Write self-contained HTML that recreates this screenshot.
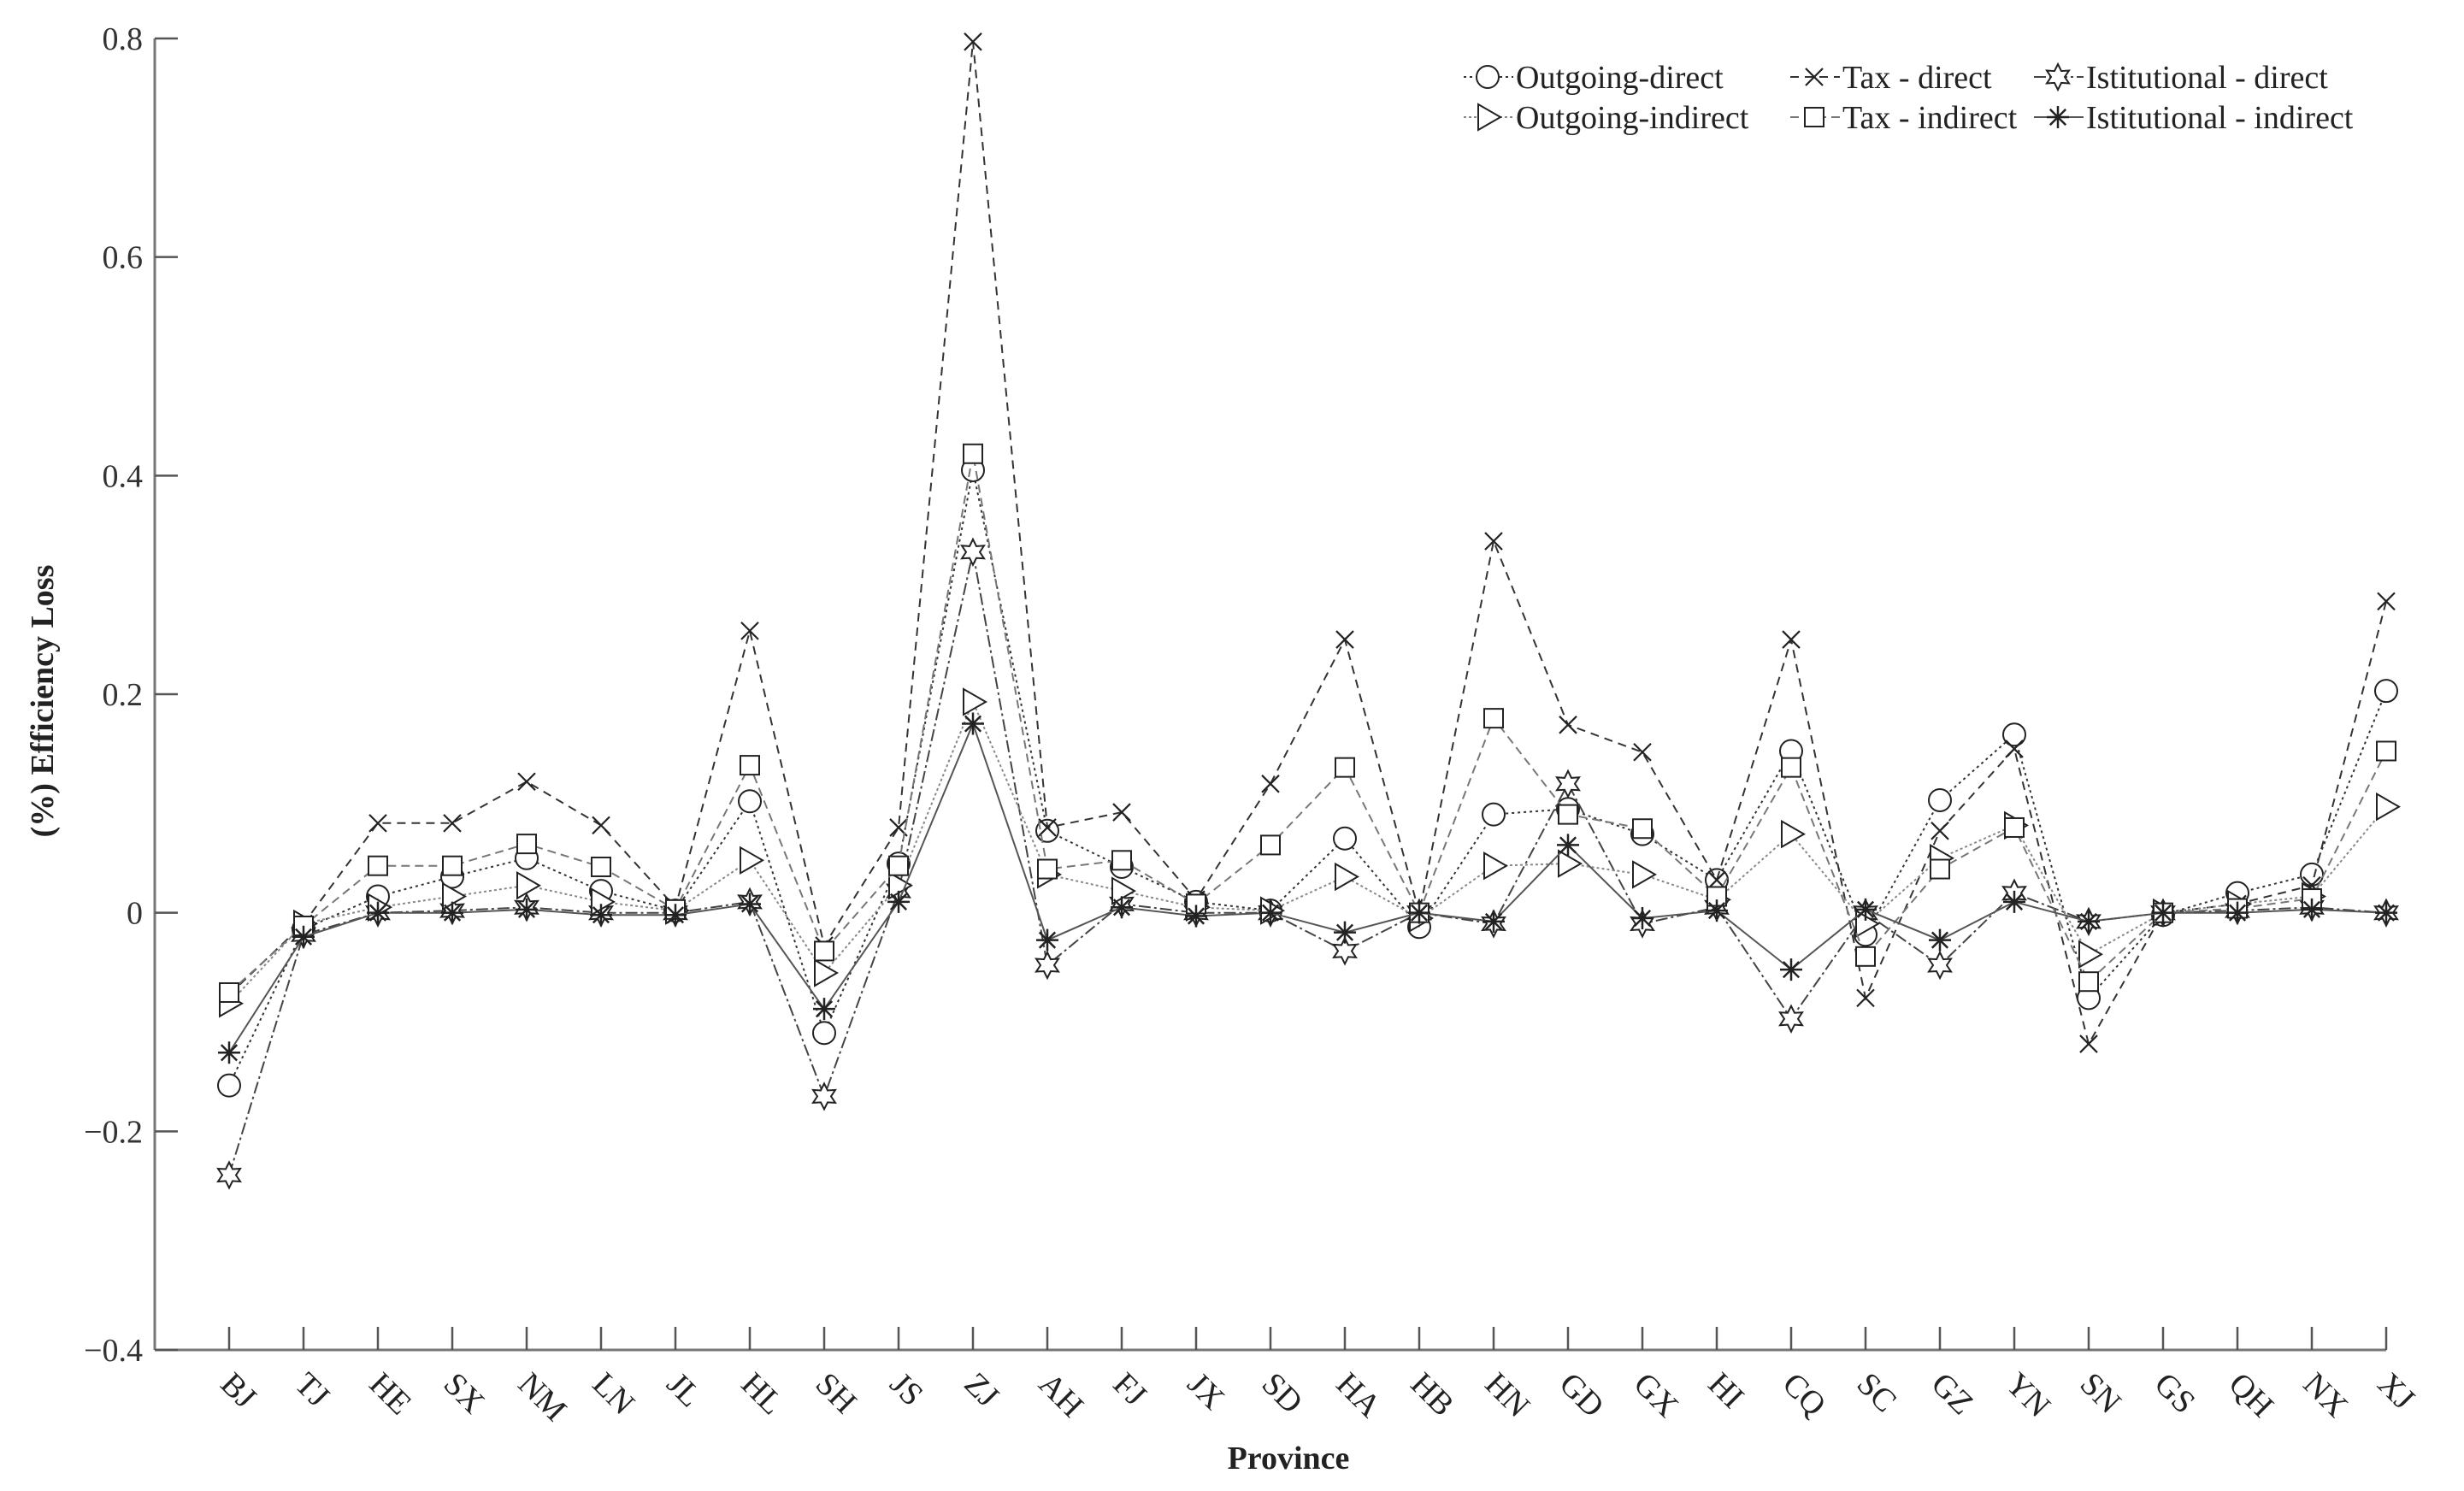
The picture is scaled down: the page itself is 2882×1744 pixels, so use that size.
<!DOCTYPE html>
<html><head><meta charset="utf-8"><style>
html,body{margin:0;padding:0;background:#fff;}
svg{display:block;font-family:"Liberation Serif",serif;}
</style></head><body>
<svg id="chart" width="2882" height="1744" viewBox="0 0 2882 1744">
<g id="axes"></g>
<g id="series"></g>
<g id="legend"></g>
<text x="62" y="820" transform="rotate(-90 62 820)" text-anchor="middle" font-size="38" font-weight="bold" fill="#222">(%) Efficiency Loss</text>
<text x="1507" y="1718" text-anchor="middle" font-size="38" font-weight="bold" fill="#222">Province</text>
</svg>
<script>
const provinces = ["BJ","TJ","HE","SX","NM","LN","JL","HL","SH","JS","ZJ","AH","FJ","JX","SD","HA","HB","HN","GD","GX","HI","CQ","SC","GZ","YN","SN","GS","QH","NX","XJ"];
const yTicks = [-0.4,-0.2,0,0.2,0.4,0.6,0.8];
const yTickLabels = ["\u22120.4","\u22120.2","0","0.2","0.4","0.6","0.8"];
const outgoingDirect = [-0.158,-0.015,0.015,0.033,0.05,0.02,0.002,0.102,-0.11,0.045,0.405,0.075,0.042,0.01,0.002,0.068,-0.013,0.09,0.095,0.072,0.03,0.148,-0.02,0.103,0.163,-0.078,-0.002,0.018,0.035,0.203];
const taxDirect = [-0.075,-0.01,0.082,0.082,0.12,0.08,0.005,0.258,-0.03,0.078,0.797,0.078,0.092,0.012,0.118,0.25,0.0,0.34,0.172,0.147,0.03,0.25,-0.078,0.075,0.15,-0.12,0,0.008,0.025,0.285];
const instDirect = [-0.24,-0.02,0.0,0.002,0.005,0.0,0.0,0.01,-0.168,0.02,0.33,-0.048,0.008,0.0,0.0,-0.035,0.0,-0.01,0.118,-0.01,0.005,-0.097,0.0,-0.048,0.018,-0.008,0,0.002,0.005,0];
const outgoingIndirect = [-0.083,-0.01,0.005,0.015,0.025,0.01,0.002,0.048,-0.055,0.025,0.193,0.035,0.02,0.005,0.002,0.033,-0.005,0.043,0.045,0.035,0.012,0.072,-0.01,0.05,0.08,-0.038,0,0.008,0.015,0.097];
const taxIndirect = [-0.073,-0.012,0.043,0.043,0.063,0.042,0.003,0.135,-0.035,0.043,0.42,0.04,0.048,0.008,0.062,0.133,0.0,0.178,0.09,0.077,0.015,0.133,-0.04,0.04,0.078,-0.063,0,0.004,0.013,0.148];
const instIndirect = [-0.128,-0.022,0.0,0.0,0.003,-0.002,-0.002,0.008,-0.088,0.01,0.173,-0.025,0.005,-0.003,0.0,-0.018,0.0,-0.008,0.062,-0.005,0.002,-0.052,0.003,-0.025,0.01,-0.008,0,0.0,0.003,0];

const NS="http://www.w3.org/2000/svg";
const X0=268, X1=2791, AX=181, Y0=1579, Y1=45, VMIN=-0.4, VMAX=0.8;
function xScale(i){return X0+(X1-X0)*i/(provinces.length-1);}
function yScale(v){return Y0-(v-VMIN)/(VMAX-VMIN)*(Y0-Y1);}
function mk(tag,attrs,parent){const e=document.createElementNS(NS,tag);for(const k in attrs)e.setAttribute(k,attrs[k]);parent.appendChild(e);return e;}

const axes=document.getElementById('axes');
let e;
e=mk('line',{x1:AX,y1:Y0,x2:X1,y2:Y0,stroke:'#777','stroke-width':3},axes);


e=mk('line',{x1:AX,y1:Y0,x2:AX,y2:Y1,stroke:'#777','stroke-width':3},axes);


yTicks.forEach((t,i)=>{
  const y=yScale(t);
  const l=mk('line',{x1:AX,y1:y,x2:AX+27,y2:y,stroke:'#555','stroke-width':2.5},axes);
  
  
  const tx=mk('text',{x:AX-14,y:y+13,'text-anchor':'end','font-size':38,fill:'#333'},axes);
  tx.textContent=yTickLabels[i];
  
  
});
provinces.forEach((p,i)=>{
  const x=xScale(i);
  const l=mk('line',{x1:x,y1:Y0,x2:x,y2:Y0-27,stroke:'#555','stroke-width':2.5},axes);
  
  
  const tx=mk('text',{x:x-12,y:Y0+42,transform:`rotate(45 ${x-12} ${Y0+42})`,'font-size':38,fill:'#222'},axes);
  tx.textContent=p;
  
  
});

function drawMarker(type,x,y,g){
  const s=13, st={fill:'#fff',stroke:'#222','stroke-width':2};
  let m;
  if(type==='circle') m=mk('circle',Object.assign({cx:x,cy:y,r:s},st),g);
  else if(type==='x') m=mk('path',{d:`M${x-10} ${y-10}L${x+10} ${y+10}M${x-10} ${y+10}L${x+10} ${y-10}`,stroke:'#222','stroke-width':2.2,fill:'none'},g);
  else if(type==='square') m=mk('rect',Object.assign({x:x-11,y:y-11,width:22,height:22},st),g);
  else if(type==='tri') m=mk('path',Object.assign({d:`M${x-11} ${y-15}L${x+15} ${y}L${x-11} ${y+15}Z`},st),g);
  else if(type==='star'){let d='';for(let k=0;k<12;k++){const r=k%2?8:15;const a=Math.PI/6*k-Math.PI/2;d+=(k?'L':'M')+(x+r*Math.cos(a)).toFixed(1)+' '+(y+r*Math.sin(a)).toFixed(1);}m=mk('path',Object.assign({d:d+'Z'},st),g);}
  else if(type==='ast'){let d='';for(let k=0;k<4;k++){const a=Math.PI/4*k;d+=`M${x-13*Math.cos(a)} ${y-13*Math.sin(a)}L${x+13*Math.cos(a)} ${y+13*Math.sin(a)}`;}m=mk('path',{d:d,stroke:'#222','stroke-width':2.5,fill:'none'},g);}
  return m;
}
const seriesDefs=[
  {name:'outgoing-direct',label:'Outgoing-direct',data:outgoingDirect,marker:'circle',dash:'3 4',color:'#333'},
  {name:'tax-direct',label:'Tax - direct',data:taxDirect,marker:'x',dash:'10 7',color:'#333'},
  {name:'istitutional-direct',label:'Istitutional - direct',data:instDirect,marker:'star',dash:'14 4 3 4',color:'#444'},
  {name:'outgoing-indirect',label:'Outgoing-indirect',data:outgoingIndirect,marker:'tri',dash:'3 3',color:'#888'},
  {name:'tax-indirect',label:'Tax - indirect',data:taxIndirect,marker:'square',dash:'10 6',color:'#777'},
  {name:'istitutional-indirect',label:'Istitutional - indirect',data:instIndirect,marker:'ast',dash:'none',color:'#555'}
];
const sg=document.getElementById('series');
seriesDefs.forEach(s=>{
  const g=mk('g',{},sg);
  
  
  const pts=s.data.map((v,i)=>xScale(i).toFixed(1)+','+yScale(v).toFixed(1)).join(' ');
  const pl=mk('polyline',{points:pts,fill:'none',stroke:s.color,'stroke-width':2,'stroke-dasharray':s.dash},g);
  
  
  s.data.forEach((v,i)=>{
    const m=drawMarker(s.marker,xScale(i),yScale(v),g);
    
    
  });
});
const lg=document.getElementById('legend');
const legX=[1740,2122,2407], legY=[90,137];
seriesDefs.forEach((s,i)=>{
  const col=i%3,row=Math.floor(i/3);
  const mx=legX[col], y=legY[row];
  const g=mk('g',{},lg);
  
  
  const l=mk('line',{x1:mx-28,y1:y,x2:mx+30,y2:y,stroke:s.color,'stroke-width':2,'stroke-dasharray':s.dash==='none'?'none':s.dash},g);
  
  
  const m=drawMarker(s.marker,mx,y,g);
  
  
  const t=mk('text',{x:mx+33,y:y+13,'font-size':38,fill:'#222'},g);
  t.textContent=s.label;
  
  
});
</script>
</body></html>
